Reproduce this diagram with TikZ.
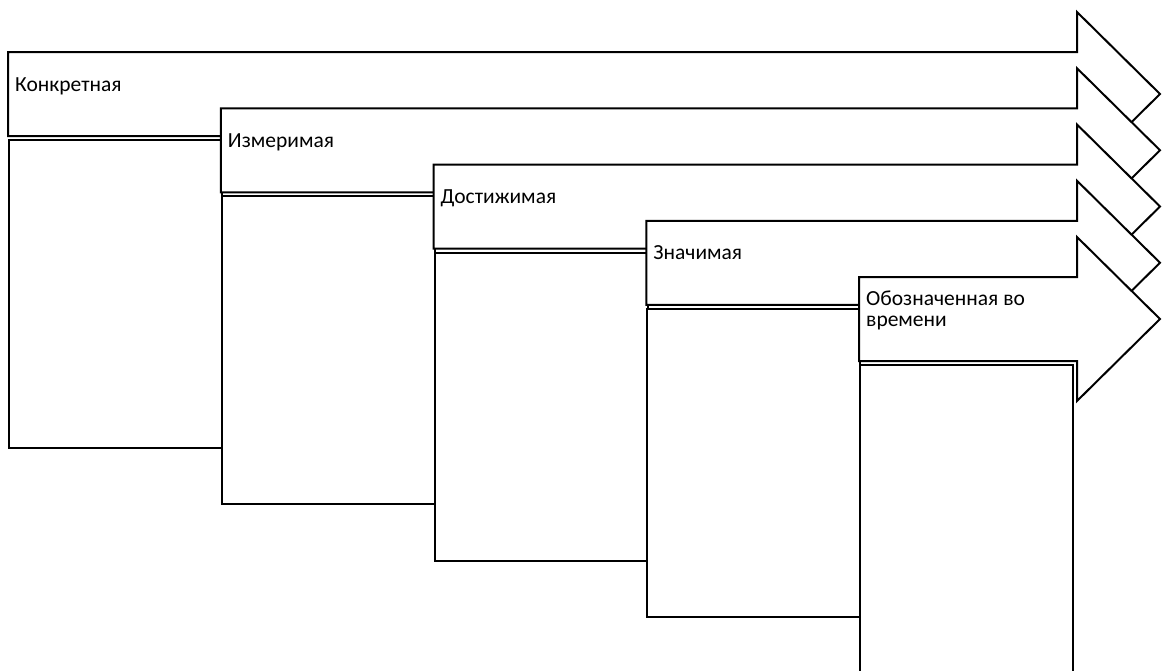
\documentclass[tikz,border=0pt]{standalone}
\usepackage{fontspec}
\setmainfont{Carlito}
\begin{document}
\begin{tikzpicture}[x=1pt,y=-1pt,
        band/.style={draw,fill=white,line width=2pt,line join=miter},
        stage/.style={draw,fill=white,line width=2pt,anchor=north west,
            minimum width=213pt,minimum height=308pt,inner sep=0pt},
        lbl/.style={anchor=base west,inner sep=0pt,align=left,
            font=\fontsize{21.5}{21}\selectfont}]
\useasboundingbox (0,0) rectangle (1163,670);

\foreach \i/\txt/\dy in {0/Конкретная/39,1/Измеримая/39,2/Достижимая/39,
        3/Значимая/39,4/{Обозначенная во\\времени}/49} {
    \pgfmathsetmacro\xl{8+212.75*\i}
    \pgfmathsetmacro\yt{52+56.25*\i}
    \draw[band] (\xl,\yt) -- (1077,\yt) -- (1077,\yt-40) -- (1160,\yt+42)
        -- (1077,\yt+124) -- (1077,\yt+84) -- (\xl,\yt+84) -- cycle;
    \node[lbl] (l\i) at (\xl+7,\yt+\dy) {\txt};
    \node[stage] (s\i) at (\xl,\yt+87) {};
}
\end{tikzpicture}
\end{document}
